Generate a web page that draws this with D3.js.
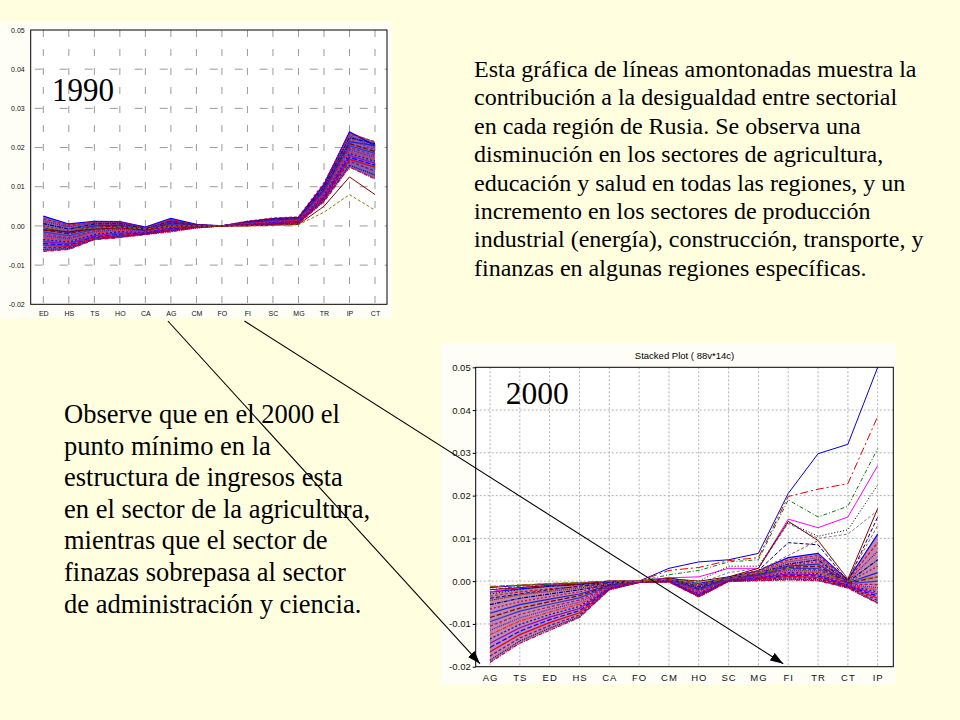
<!DOCTYPE html>
<html><head><meta charset="utf-8">
<script src="https://cdn.jsdelivr.net/npm/d3@7"></script>
<style>
html,body{margin:0;padding:0;background:#FFFFE0;}
svg{display:block;}
</style></head>
<body>
<svg id="slide" width="960" height="720"></svg>
<script>
// ---------------- DATA ----------------
const cats1990 = ["ED","HS","TS","HO","CA","AG","CM","FO","FI","SC","MG","TR","IP","CT"];
const cats2000 = ["AG","TS","ED","HS","CA","FO","CM","HO","SC","MG","FI","TR","CT","IP"];
const yTicks = [0.05,0.04,0.03,0.02,0.01,0.00,-0.01,-0.02];
const yTickLabels = ["0.05","0.04","0.03","0.02","0.01","0.00","-0.01","-0.02"];

// 1990: dense group of regions (values in order of cats1990)
const dense1990 = [
 [0.0025,0.0005,0.0012,0.0011,-0.0003,0.0019,0.0004,0,0.0011,0.0019,0.0022,0.0105,0.0240,0.0205],
 [0.0018,0.0002,0.0010,0.0010,-0.0005,0.0017,0.0003,0,0.0012,0.0020,0.0023,0.0110,0.0235,0.0215],
 [0.0012,-0.0002,0.0008,0.0008,-0.0007,0.0014,0.0003,0,0.0010,0.0018,0.0021,0.0100,0.0230,0.0200],
 [0.0006,-0.0008,0.0005,0.0006,-0.0008,0.0012,0.0002,0,0.0010,0.0017,0.0020,0.0098,0.0225,0.0210],
 [0.0000,-0.0012,0.0002,0.0004,-0.0010,0.0010,0.0002,0,0.0009,0.0016,0.0019,0.0095,0.0220,0.0195],
 [-0.0005,-0.0017,0.0000,0.0002,-0.0011,0.0008,0.0001,0,0.0008,0.0015,0.0018,0.0092,0.0215,0.0205],
 [-0.0010,-0.0020,-0.0004,0.0000,-0.0012,0.0006,0.0001,0,0.0008,0.0014,0.0017,0.0090,0.0210,0.0190],
 [-0.0015,-0.0025,-0.0008,-0.0003,-0.0013,0.0004,0.0000,0,0.0007,0.0013,0.0016,0.0088,0.0205,0.0185],
 [-0.0020,-0.0030,-0.0012,-0.0006,-0.0014,0.0002,0.0000,0,0.0006,0.0012,0.0015,0.0085,0.0200,0.0180],
 [-0.0025,-0.0033,-0.0015,-0.0009,-0.0015,0.0000,-0.0001,0,0.0006,0.0011,0.0014,0.0082,0.0195,0.0175],
 [-0.0030,-0.0037,-0.0019,-0.0012,-0.0016,-0.0002,-0.0002,0,0.0005,0.0010,0.0013,0.0080,0.0190,0.0170],
 [-0.0035,-0.0041,-0.0022,-0.0015,-0.0017,-0.0004,-0.0002,0,0.0004,0.0009,0.0012,0.0078,0.0185,0.0165],
 [-0.0040,-0.0045,-0.0025,-0.0018,-0.0018,-0.0006,-0.0003,0,0.0004,0.0008,0.0011,0.0075,0.0180,0.0160],
 [-0.0045,-0.0049,-0.0028,-0.0021,-0.0019,-0.0008,-0.0003,0,0.0003,0.0007,0.0010,0.0072,0.0175,0.0155],
 [-0.0050,-0.0052,-0.0030,-0.0024,-0.0020,-0.0010,-0.0004,0,0.0003,0.0006,0.0009,0.0070,0.0170,0.0150],
 [-0.0055,-0.0055,-0.0032,-0.0026,-0.0021,-0.0012,-0.0004,0,0.0002,0.0005,0.0008,0.0068,0.0165,0.0140],
 [-0.0060,-0.0058,-0.0034,-0.0028,-0.0021,-0.0013,-0.0005,0,0.0002,0.0004,0.0007,0.0065,0.0155,0.0130],
 [-0.0065,-0.0060,-0.0035,-0.0030,-0.0022,-0.0015,-0.0005,0,0.0001,0.0003,0.0006,0.0062,0.0150,0.0120]
];
// 1990: separate regions below the group on the right
const outliers1990 = [
 [-0.0010,-0.0015,-0.0008,-0.0005,-0.0010,0.0000,0.0000,0,0.0000,0.0002,0.0004,0.0050,0.0125,0.0080],
 [-0.0005,-0.0010,-0.0005,-0.0003,-0.0008,0.0000,0.0000,0,0.0000,0.0001,0.0003,0.0035,0.0080,0.0040]
];

// 2000: dense group (values in order of cats2000)
const dense2000 = [
 [-0.0025,-0.0018,-0.0012,-0.0008,-0.0003,0,0.0008,-0.0005,0.0008,0.0025,0.0055,0.0065,0.0003,0.0110],
 [-0.0035,-0.0025,-0.0018,-0.0012,-0.0005,0,0.0007,-0.0008,0.0007,0.0022,0.0050,0.0060,0.0002,0.0090],
 [-0.0045,-0.0032,-0.0024,-0.0016,-0.0006,0,0.0006,-0.0010,0.0006,0.0020,0.0045,0.0055,0.0000,0.0070],
 [-0.0055,-0.0040,-0.0030,-0.0020,-0.0008,-0.0001,0.0005,-0.0013,0.0006,0.0018,0.0040,0.0050,-0.0002,0.0050],
 [-0.0065,-0.0048,-0.0036,-0.0025,-0.0009,-0.0001,0.0004,-0.0015,0.0005,0.0017,0.0038,0.0045,-0.0003,0.0035],
 [-0.0075,-0.0055,-0.0042,-0.0030,-0.0010,-0.0001,0.0004,-0.0017,0.0005,0.0015,0.0035,0.0040,-0.0004,0.0020],
 [-0.0085,-0.0063,-0.0048,-0.0034,-0.0011,-0.0001,0.0003,-0.0019,0.0004,0.0014,0.0032,0.0035,-0.0005,0.0010],
 [-0.0095,-0.0070,-0.0054,-0.0039,-0.0012,-0.0001,0.0003,-0.0021,0.0004,0.0013,0.0030,0.0030,-0.0006,0.0000],
 [-0.0105,-0.0078,-0.0060,-0.0044,-0.0013,-0.0001,0.0002,-0.0023,0.0003,0.0012,0.0028,0.0027,-0.0007,-0.0008],
 [-0.0115,-0.0086,-0.0066,-0.0049,-0.0014,-0.0002,0.0002,-0.0025,0.0003,0.0011,0.0025,0.0024,-0.0008,-0.0015],
 [-0.0125,-0.0093,-0.0072,-0.0054,-0.0015,-0.0002,0.0001,-0.0027,0.0002,0.0010,0.0022,0.0021,-0.0009,-0.0020],
 [-0.0135,-0.0101,-0.0078,-0.0059,-0.0016,-0.0002,0.0001,-0.0029,0.0002,0.0009,0.0020,0.0018,-0.0010,-0.0025],
 [-0.0145,-0.0109,-0.0084,-0.0064,-0.0017,-0.0002,0.0000,-0.0031,0.0001,0.0008,0.0017,0.0015,-0.0011,-0.0030],
 [-0.0155,-0.0117,-0.0090,-0.0069,-0.0018,-0.0002,0.0000,-0.0033,0.0001,0.0006,0.0014,0.0012,-0.0012,-0.0035],
 [-0.0165,-0.0125,-0.0097,-0.0074,-0.0019,-0.0003,-0.0001,-0.0034,0.0000,0.0005,0.0011,0.0009,-0.0013,-0.0040],
 [-0.0175,-0.0133,-0.0104,-0.0079,-0.0019,-0.0003,-0.0001,-0.0035,0.0000,0.0004,0.0008,0.0006,-0.0014,-0.0045],
 [-0.0185,-0.0140,-0.0110,-0.0083,-0.0020,-0.0003,-0.0001,-0.0036,0.0000,0.0002,0.0005,0.0003,-0.0015,-0.0050],
 [-0.0190,-0.0145,-0.0115,-0.0085,-0.0020,-0.0003,-0.0002,-0.0037,-0.0001,0.0001,0.0003,0.0001,-0.0016,-0.0052]
];
// 2000: regions that rise far above the group on the right
const outliers2000 = [
 [-0.0015,-0.0010,-0.0007,-0.0004,0,0,0.0030,0.0045,0.0050,0.0065,0.0205,0.0298,0.0320,0.0500],
 [-0.0013,-0.0009,-0.0006,-0.0004,0,0,0.0025,0.0032,0.0048,0.0055,0.0198,0.0215,0.0228,0.0385],
 [-0.0020,-0.0012,-0.0008,-0.0005,0,0,0.0015,0.0025,0.0045,0.0050,0.0190,0.0150,0.0175,0.0310],
 [-0.0025,-0.0015,-0.0010,-0.0006,0,0,0.0008,0.0010,0.0030,0.0030,0.0145,0.0125,0.0150,0.0270],
 [-0.0030,-0.0020,-0.0012,-0.0008,-0.0003,0,0.0005,0.0000,0.0035,0.0035,0.0137,0.0105,0.0120,0.0225],
 [-0.0035,-0.0022,-0.0014,-0.0010,-0.0004,0,0.0005,-0.0005,0.0020,0.0030,0.0135,0.0100,0.0110,0.0165],
 [-0.0020,-0.0015,-0.0010,-0.0007,0,0,0.0006,0.0000,0.0010,0.0030,0.0140,0.0095,0.0005,0.0170],
 [-0.0040,-0.0030,-0.0020,-0.0012,-0.0005,0,0.0004,-0.0010,0.0010,0.0025,0.0090,0.0085,0.0000,0.0150],
 [-0.0045,-0.0032,-0.0022,-0.0014,-0.0006,0,0.0003,-0.0010,0.0008,0.0025,0.0060,0.0095,0.0005,0.0130],
 [-0.0012,-0.0009,-0.0005,-0.0003,0,0,0.0005,-0.0002,0.0005,0.0020,0.0030,0.0020,0.0000,0.0010]
];

const paragraphRight = [
 "Esta gráfica de líneas amontonadas muestra la",
 "contribución a la desigualdad entre sectorial",
 "en cada región de Rusia.  Se observa una",
 "disminución en los sectores de agricultura,",
 "educación y salud en todas las regiones, y un",
 "incremento en los sectores de producción",
 "industrial (energía), construcción, transporte, y",
 "finanzas en algunas regiones específicas."
];
const paragraphLeft = [
 "Observe que en el 2000 el",
 "punto mínimo en la",
 "estructura de ingresos esta",
 "en el sector de la agricultura,",
 "mientras que el sector de",
 "finazas sobrepasa al sector",
 "de administración y ciencia."
];

// ---------------- STYLES ----------------
const meshColors = ["#0000ff","#e00020","#800080","#000080","#cc0044","#2020d0","#800000","#3333cc","#b01060","#6a0dad","#ff2020","#1010a0","#9900cc"];
const meshDashes = [null,"3,2","1,1","4,1,1,1","2,2",null,"5,2"];
const outColors1990 = ["#800000","#808000"];
const outDashes1990 = [null,"3,2"];
const outColors2000 = ["#0000cc","#e00000","#008000","#ff00ff","#000000","#808080","#800000","#000080","#b05020","#808000"];
const outDashes2000 = [null,"8,3,2,3","4,2,1,2",null,"1,2","3,2",null,"4,2","3,2","6,3"];

const svg = d3.select("#slide");
const serif = "'Liberation Serif','Times New Roman',Times,serif";
const sans = "'Liberation Sans',Arial,sans-serif";

// defs
svg.append("defs").append("marker")
  .attr("id","arrow").attr("markerUnits","userSpaceOnUse")
  .attr("markerWidth",14).attr("markerHeight",10)
  .attr("refX",13).attr("refY",4.5).attr("orient","auto")
  .append("path").attr("d","M0,0 L13,4.5 L0,9 Z").attr("fill","#000");

function drawChart(cfg){
  const g = svg.append("g");
  g.append("rect").attr("x",cfg.img[0]).attr("y",cfg.img[1]).attr("width",cfg.img[2]).attr("height",cfg.img[3])
    .attr("fill",cfg.imgFill);
  const x = d3.scalePoint().domain(cfg.cats).range(cfg.xr).padding(0);
  const y = d3.scaleLinear().domain([-0.02,0.05]).range(cfg.yr);
  const [L,R] = cfg.frameX, [T,B] = [y(0.05), y(-0.02)];
  g.append("rect").attr("x",L).attr("y",T).attr("width",R-L).attr("height",B-T).attr("fill","#fff");
  // grid
  g.selectAll(".vg").data(cfg.cats).enter().append("line")
    .attr("x1",d=>x(d)).attr("x2",d=>x(d)).attr("y1",T).attr("y2",B)
    .attr("stroke",cfg.gridColor).attr("stroke-width",cfg.gridW).attr("stroke-dasharray",cfg.vDash).attr("stroke-dashoffset",cfg.vOff);
  g.selectAll(".hg").data(yTicks.slice(1,-1)).enter().append("line")
    .attr("x1",L).attr("x2",R).attr("y1",d=>y(d)).attr("y2",d=>y(d))
    .attr("stroke",cfg.gridColor).attr("stroke-width",cfg.gridW).attr("stroke-dasharray",cfg.hDash).attr("stroke-dashoffset",cfg.hOff);
  const clip = "clip"+cfg.id;
  svg.select("defs").append("clipPath").attr("id",clip).append("rect").attr("x",L).attr("y",T-1).attr("width",R-L).attr("height",B-T+1);
  const pg = g.append("g").attr("clip-path",`url(#${clip})`);
  // band envelope of the dense group
  const idx = d3.range(cfg.cats.length);
  const area = d3.area().x(i=>x(cfg.cats[i]))
    .y0(i=>y(d3.min(cfg.dense,s=>s[i]))).y1(i=>y(d3.max(cfg.dense,s=>s[i])));
  pg.append("path").datum(idx).attr("d",area).attr("fill",cfg.bandFill).attr("opacity",cfg.bandOp);
  const line = d3.line().x((v,i)=>x(cfg.cats[i])).y(v=>y(v));
  pg.selectAll(".dl").data(cfg.dense).enter().append("path")
    .attr("d",line).attr("fill","none")
    .attr("stroke",(d,i)=>meshColors[i%meshColors.length])
    .attr("stroke-width",1.2)
    .attr("stroke-dasharray",(d,i)=>meshDashes[i%meshDashes.length]);
  pg.selectAll(".ol").data(cfg.out).enter().append("path")
    .attr("d",line).attr("fill","none")
    .attr("stroke",(d,i)=>cfg.outColors[i]).attr("stroke-width",1)
    .attr("stroke-dasharray",(d,i)=>cfg.outDashes[i]);
  // frame
  g.append("rect").attr("x",L).attr("y",T).attr("width",R-L).attr("height",B-T)
    .attr("fill","none").attr("stroke","#000").attr("stroke-width",1);
  // axes
  const yAxis = d3.axisLeft(y).tickValues(yTicks).tickFormat((d,i)=>yTickLabels[i]).tickSize(cfg.tickLen).tickPadding(cfg.yPad);
  const ya = g.append("g").attr("transform",`translate(${L},0)`).call(yAxis);
  ya.select(".domain").remove();
  ya.selectAll("line").attr("stroke","#000");
  ya.selectAll("text").attr("font-family",sans).attr("font-size",cfg.fs).attr("fill","#111");
  const xAxis = d3.axisBottom(x).tickSize(0).tickPadding(cfg.xPad);
  const xa = g.append("g").attr("transform",`translate(0,${B})`).call(xAxis);
  xa.select(".domain").remove();
  xa.selectAll("text").attr("font-family",sans).attr("font-size",cfg.fs).attr("fill","#111").attr("letter-spacing",cfg.ls);
  // year label
  g.append("text").attr("x",cfg.yearPos[0]).attr("y",cfg.yearPos[1]).text(cfg.year)
    .attr("font-family",serif).attr("font-size",cfg.yearFs)
    .attr("textLength",cfg.yearLen).attr("lengthAdjust","spacingAndGlyphs");
  if(cfg.title){
    g.append("text").attr("x",(L+R)/2).attr("y",T-8).attr("text-anchor","middle")
      .attr("font-family",sans).attr("font-size",9.5).text(cfg.title);
  }
  return {x,y};
}

const c1 = drawChart({id:"a", cats:cats1990, dense:dense1990, out:outliers1990,
  outColors:outColors1990, outDashes:outDashes1990,
  img:[0,22,392,296], imgFill:"#FEFEF6",
  xr:[43.3,375], yr:[304.3,30], frameX:[30.7,387],
  gridColor:"#9a9a9a", gridW:1, vDash:"7,12", vOff:0, hDash:"8,17", hOff:-4,
  bandFill:"#4a2090", bandOp:0.7, tickLen:0, yPad:6, xPad:7, fs:7, ls:0,
  year:"1990", yearPos:[52,101], yearFs:34, yearLen:62});

const c2 = drawChart({id:"b", cats:cats2000, dense:dense2000, out:outliers2000,
  outColors:outColors2000, outDashes:outDashes2000,
  img:[441,343,455,341], imgFill:"#FEFEF6",
  xr:[490,877.7], yr:[666.7,367.3], frameX:[475.7,893.3],
  gridColor:"#b0b0b0", gridW:1, vDash:"2,2", vOff:0, hDash:"2,2", hOff:0,
  bandFill:"#8a2a6a", bandOp:0.55, tickLen:3, yPad:2, xPad:8, fs:9.5, ls:1,
  year:"2000", yearPos:[505.7,404], yearFs:31, yearLen:63,
  title:"Stacked Plot ( 88v*14c)"});

// paragraphs
svg.append("g").selectAll("text").data(paragraphRight).enter().append("text")
  .attr("x",474).attr("y",(d,i)=>77+i*28.4).text(d=>d)
  .attr("font-family",serif).attr("font-size",24).attr("fill","#000");
svg.append("g").selectAll("text").data(paragraphLeft).enter().append("text")
  .attr("x",64).attr("y",(d,i)=>423+i*31.6).text(d=>d)
  .attr("font-family",serif).attr("font-size",26.5).attr("fill","#000");

// arrows: from chart-1 category labels to the same sectors on chart 2
const arrowPairs = [["AG","AG"],["FI","FI"]];
svg.append("g").selectAll("line").data(arrowPairs).enter().append("line")
  .attr("x1",d=>c1.x(d[0])-3).attr("y1",321)
  .attr("x2",(d,i)=>c2.x(d[1])-(i===0?10:5)).attr("y2",c2.y(-0.02)-3)
  .attr("stroke","#000").attr("stroke-width",1.1).attr("marker-end","url(#arrow)");
</script>
</body></html>
